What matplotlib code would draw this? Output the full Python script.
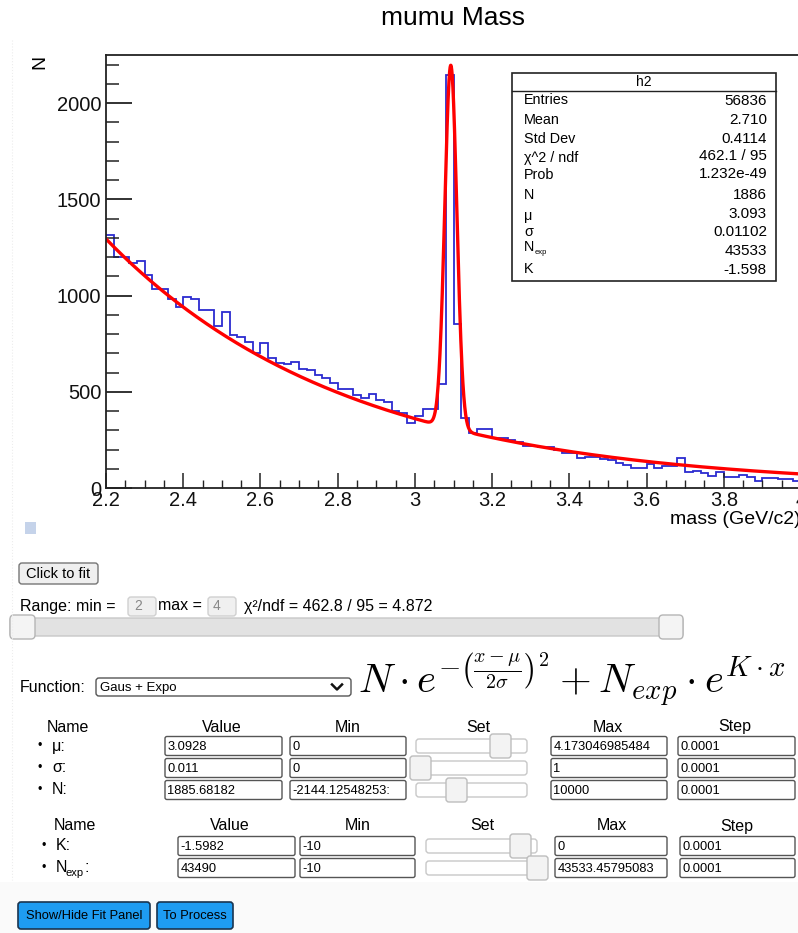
import numpy as np
import matplotlib.pyplot as plt
from matplotlib.patches import FancyBboxPatch, Rectangle
from matplotlib.ticker import MultipleLocator, FuncFormatter

plt.rcParams['font.family'] = ['Liberation Sans', 'DejaVu Sans']

# histogram h2 (0.02 GeV bins), visible part 2.2 - 4.0
x_lo, x_hi = 2.2, 4.0
counts = [1315, 1202, 1202, 1171, 1179, 1107, 1032, 1032, 982, 939,
          994, 980, 925, 925, 842, 916, 795, 783, 760, 703,
          755, 676, 651, 643, 656, 616, 614, 587, 572, 544,
          515, 513, 484, 466, 487, 457, 445, 400, 391, 336,
          374, 410, 412, 540, 2146, 852, 362, 284, 305, 305,
          258, 258, 249, 241, 218, 218, 215, 215, 197, 183,
          183, 154, 163, 159, 149, 145, 128, 119, 102, 102,
          125, 102, 116, 116, 154, 85, 88, 80, 62, 81,
          55, 55, 67, 59, 38, 54, 54, 47, 47, 38]

# fit result: N*exp(-((x-mu)/(2 sigma))^2) + Nexp*exp(K x)
N, mu, sigma, N_exp, K = 1886, 3.093, 0.01102, 43533, -1.598

stat_names = ["Entries", "Mean", "Std Dev", "χ^2 / ndf", "Prob", "N", "μ", "σ", "N", "K"]
stat_values = ["56836", "2.710", "0.4114", "462.1 / 95", "1.232e-49", "1886", "3.093",
               "0.01102", "43533", "-1.598"]

# fit panel contents
par1_names = ["μ:", "σ:", "N:"]
par1_value = ["3.0928", "0.011", "1885.68182"]
par1_min = ["0", "0", "-2144.12548253:"]
par1_max = ["4.173046985484", "1", "10000"]
par1_step = ["0.0001", "0.0001", "0.0001"]
par1_handle = [490, 410, 446]
par2_names = ["K:", "N"]
par2_value = ["-1.5982", "43490"]
par2_min = ["-10", "-10"]
par2_max = ["0", "43533.45795083"]
par2_step = ["0.0001", "0.0001"]
par2_handle = [510, 527]
headers = ["Name", "Value", "Min", "Set", "Max", "Step"]

W, H = 798, 933
fig = plt.figure(figsize=(W / 100, H / 100), dpi=100)

def fit(x):
    return N * np.exp(-((x - mu) / (2 * sigma)) ** 2) + N_exp * np.exp(K * x)

# ---- the histogram pad
ax = fig.add_axes([106 / W, 1 - 488 / H, 695 / W, 433 / H])
edges = np.linspace(x_lo, x_hi, len(counts) + 1)
ax.stairs(counts, edges, baseline=None, color='#2b2bd0', lw=1.3)
xf = np.linspace(x_lo, x_hi, 3000)
ax.plot(xf, fit(xf), color='#ff0000', lw=2.4)
ax.set_xlim(x_lo, x_hi)
ax.set_ylim(0, 2250)
ax.xaxis.set_major_locator(MultipleLocator(0.2))
ax.xaxis.set_minor_locator(MultipleLocator(0.05))
ax.yaxis.set_major_locator(MultipleLocator(500))
ax.yaxis.set_minor_locator(MultipleLocator(100))
ax.xaxis.set_major_formatter(FuncFormatter(lambda v, p: f'{v:g}'))
ax.tick_params(which='both', direction='in', colors='#222', labelcolor='#111')
ax.tick_params(axis='y', which='major', length=18.5, width=1.3, labelsize=14.5, pad=3.5)
ax.tick_params(axis='y', which='minor', length=9.4, width=1.1)
ax.tick_params(axis='x', which='major', length=11, width=1.1, labelsize=14.5, pad=2)
ax.tick_params(axis='x', which='minor', length=5.8, width=1.0)
for s in ax.spines.values():
    s.set_color('#222')
    s.set_linewidth(1.3)

fig.text(453 / W, 1 - 18 / H, 'mumu Mass', fontsize=19, ha='center', va='center')
fig.text(40 / W, 1 - 62 / H, 'N', fontsize=14, rotation=90, ha='center', va='center')
fig.text(801 / W, 1 - 519 / H, 'mass (GeV/c2)', fontsize=14, ha='right', va='center')

# ---- overlay in pixel coordinates for the stats box and the web panel
ui = fig.add_axes([0, 0, 1, 1], zorder=5)
ui.set_xlim(0, W)
ui.set_ylim(H, 0)
ui.axis('off')
ui.patch.set_alpha(0)


def box(x0, y0, x1, y1, fc='white', ec='#777', lw=1.0, r=3):
    ui.add_patch(FancyBboxPatch((x0, y0), x1 - x0, y1 - y0,
                                boxstyle=f'round,pad=0,rounding_size={r}',
                                fc=fc, ec=ec, lw=lw))


# stats box
ui.add_patch(Rectangle((512, 73), 264, 208, fc='white', ec='#222', lw=1.2))
ui.plot([512, 776], [91, 91], color='#222', lw=1.0)
ui.text(644, 82, 'h2', fontsize=10, ha='center', va='center')
name_y = [100, 120, 139, 158, 175, 195, 216, 232, 247, 269]
val_y = [101, 120, 139, 156, 174, 195, 214, 232, 251, 270]
for i, (nm, v) in enumerate(zip(stat_names, stat_values)):
    ui.text(524, name_y[i], nm, fontsize=10.4, va='center')
    ui.text(767, val_y[i], v, fontsize=11, va='center', ha='right')
ui.text(535, 252, 'exp', fontsize=5.5, va='center')

# faint page border and small icon
ui.plot([12, 12], [40, 880], color='#ededed', ls=':', lw=0.8)
ui.add_patch(Rectangle((25, 522), 11, 12, fc='#c5d3ea', ec='none'))

# click to fit / range row
box(19, 563, 98, 584, fc='#efefef', ec='#767676')
ui.text(58.5, 574, 'Click to fit', fontsize=10.5, ha='center', va='center')
ui.text(20, 606, 'Range: min = ', fontsize=11.5, va='center')
box(128, 597, 156, 616, fc='#f0f0f0', ec='#d0d0d0')
ui.text(134, 606.5, '2', fontsize=10, color='#888', va='center')
ui.text(158, 606, 'max = ', fontsize=11.5, va='center')
box(208, 597, 236, 616, fc='#f0f0f0', ec='#d0d0d0')
ui.text(213, 606.5, '4', fontsize=10, color='#888', va='center')
ui.text(244, 606, 'χ²/ndf = 462.8 / 95 = 4.872', fontsize=11.5, va='center')
box(10, 618, 683, 636, fc='#e2e2e2', ec='#c8c8c8', r=2)
box(10, 615, 35, 639, fc='#f4f4f4', ec='#b5b5b5', r=4)
box(659, 615, 683, 639, fc='#f4f4f4', ec='#b5b5b5', r=4)

# function selector and formula
ui.text(20, 687, 'Function:', fontsize=11.5, va='center')
box(96, 678, 351, 696, fc='white', ec='#555')
ui.text(100, 687.5, 'Gaus + Expo', fontsize=9.5, va='center')
ui.plot([332, 337, 342], [684.5, 689.5, 684.5], color='#111', lw=1.8)
ui.text(358, 680, r'$N\cdot e^{-\left(\frac{x-\mu}{2\sigma}\right)^2}+N_{exp}\cdot e^{K\cdot x}$',
        fontsize=29.5, va='center', math_fontfamily='cm')


def table(y_head, rows, head_x, cols, bullet_x, label_x, names, vals, mins, maxs, steps, handles):
    for hx, h in zip(head_x, headers):
        ui.text(hx, y_head, h, fontsize=11.5, ha='center', va='center')
    for j, y in enumerate(rows):
        ui.text(bullet_x, y, '•', fontsize=9, ha='center', va='center')
        ui.text(label_x, y, names[j], fontsize=11.5, va='center')
        for (x0, x1), s in zip([cols[0], cols[1], cols[3], cols[4]],
                               [vals[j], mins[j], maxs[j], steps[j]]):
            box(x0, y - 9.5, x1, y + 9.5, fc='white', ec='#555', r=2)
            ui.text(x0 + 2.5, y + 0.5, s, fontsize=9.3, va='center', clip_on=True)
        sx0, sx1 = cols[2]
        box(sx0, y - 7, sx1, y + 7, fc='white', ec='#c8c8c8', r=3)
        box(handles[j], y - 12, handles[j] + 21, y + 12, fc='#f3f3f3', ec='#bdbdbd', r=3)


table(727, [746, 768, 790], [68, 222, 348, 478, 608, 735],
      [(165, 282), (290, 406), (416, 527), (551, 667), (678, 795)],
      40, 52, par1_names, par1_value, par1_min, par1_max, par1_step, par1_handle)
table(826, [846, 868], [75, 230, 358, 482, 612, 737],
      [(178, 295), (300, 415), (426, 537), (555, 667), (680, 795)],
      44, 56, par2_names, par2_value, par2_min, par2_max, par2_step, par2_handle)
ui.text(66, 873, 'exp', fontsize=8, va='center')
ui.text(84, 868, ':', fontsize=11.5, va='center')

# bottom buttons
ui.add_patch(Rectangle((0, 882), W, 51, fc='#fafafa', ec='none', zorder=0))
box(18, 902, 150, 929, fc='#1e9cf2', ec='#1a3550', lw=1.2)
ui.text(84, 916, 'Show/Hide Fit Panel', fontsize=9.3, ha='center', va='center')
box(157, 902, 233, 929, fc='#1e9cf2', ec='#1a3550', lw=1.2)
ui.text(195, 916, 'To Process', fontsize=9.3, ha='center', va='center')

fig.savefig('out.png', dpi=100)
